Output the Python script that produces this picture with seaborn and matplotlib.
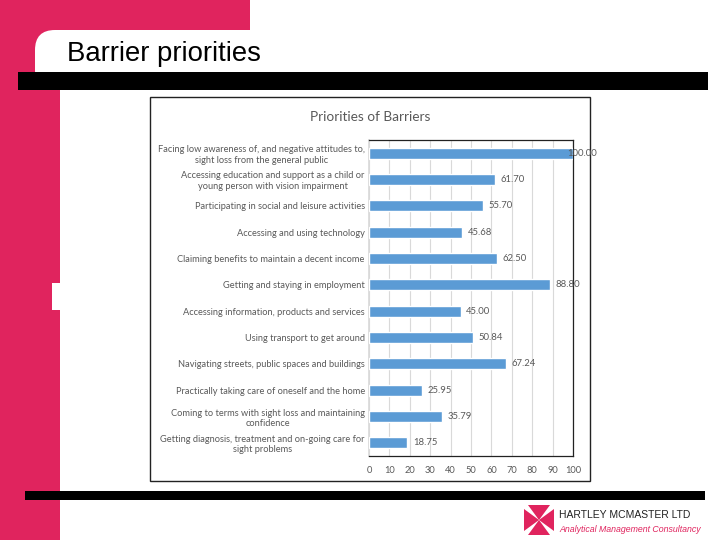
import numpy as np
import pandas as pd
import matplotlib
matplotlib.use("Agg")
import matplotlib.pyplot as plt
from matplotlib.patches import Rectangle, FancyBboxPatch, Polygon
import seaborn as sns

# Chart data
barriers = [
    "Facing low awareness of, and negative attitudes to,\nsight loss from the general public",
    "Accessing education and support as a child or\nyoung person with vision impairment",
    "Participating in social and leisure activities",
    "Accessing and using technology",
    "Claiming benefits to maintain a decent income",
    "Getting and staying in employment",
    "Accessing information, products and services",
    "Using transport to get around",
    "Navigating streets, public spaces and buildings",
    "Practically taking care of oneself and the home",
    "Coming to terms with sight loss and maintaining\nconfidence",
    "Getting diagnosis, treatment and on-going care for\nsight problems",
]
scores = [100.00, 61.70, 55.70, 45.68, 62.50, 88.80, 45.00, 50.84, 67.24, 25.95, 35.79, 18.75]
x_ticks = list(range(0, 101, 10))

slide_title = "Barrier priorities"
chart_title = "Priorities of Barriers"

PINK = "#E0245E"
BAR = "#5B9BD5"
GREY_TXT = "#595959"

sns.set_theme(style="white")
plt.rcParams["font.family"] = ["Lato", "DejaVu Sans"]

fig = plt.figure(figsize=(7.2, 5.4), dpi=100)
fig.patch.set_facecolor("white")

# slide background drawn in pixel coordinates
bg = fig.add_axes([0, 0, 1, 1])
bg.set_xlim(0, 720)
bg.set_ylim(540, 0)
bg.axis("off")

bg.add_patch(Rectangle((0, 0), 250, 80, color=PINK, lw=0))
bg.add_patch(Rectangle((0, 0), 60, 540, color=PINK, lw=0))
bg.add_patch(FancyBboxPatch((35, 30), 700, 60, boxstyle="round,pad=0,rounding_size=20",
                            fc="white", ec="none"))
bg.add_patch(Rectangle((18, 72), 690, 18, color="black", lw=0))
bg.add_patch(Rectangle((52, 283), 8, 27, color="white", lw=0))
bg.add_patch(Rectangle((25, 491), 680, 9, color="black", lw=0))
bg.add_patch(Rectangle((150, 97), 440, 384, fc="white", ec="#222222", lw=1))
bg.text(67, 54, slide_title, fontsize=19.8, family=["Liberation Sans", "DejaVu Sans"],
        va="center", ha="left", color="black")

# logo: pink wedges pointing to the centre, white X between them
x0, y0, s = 524, 505, 30
cx, cy = x0 + s / 2, y0 + s / 2
bg.add_patch(Rectangle((x0, y0), s, s, color="white", lw=0))
m = 4
wedges = [
    [(x0 + m, y0), (x0 + s - m, y0), (cx, cy)],
    [(x0 + m, y0 + s), (x0 + s - m, y0 + s), (cx, cy)],
    [(x0, y0 + m), (x0, y0 + s - m), (cx, cy)],
    [(x0 + s, y0 + m), (x0 + s, y0 + s - m), (cx, cy)],
]
for w in wedges:
    bg.add_patch(Polygon(w, closed=True, color=PINK, lw=0))
bg.text(559, 515, "HARTLEY MCMASTER LTD", fontsize=7.5, family=["Liberation Sans", "DejaVu Sans"],
        va="center", ha="left", color="#222222")
bg.text(559, 529, "Analytical Management Consultancy", fontsize=6.3, style="italic",
        family=["Liberation Sans", "DejaVu Sans"], va="center", ha="left", color=PINK)

# chart
df = pd.DataFrame({"barrier": barriers, "score": scores})
ax = fig.add_axes([369 / 720, 1 - 456 / 540, 204 / 720, 316 / 540])
sns.barplot(data=df, x="score", y="barrier", orient="h", color=BAR, width=0.42,
            saturation=1, ax=ax, zorder=3)
ax.set_xlim(0, 100)
ax.set_xticks(x_ticks)
ax.set_xlabel("")
ax.set_ylabel("")
ax.xaxis.grid(True, color="#D9D9D9", lw=0.8, zorder=0)
ax.yaxis.grid(False)
ax.tick_params(axis="x", labelsize=6.7, colors=GREY_TXT, length=0, pad=7)
ax.tick_params(axis="y", labelsize=6.7, colors=GREY_TXT, length=0, pad=3)
for lbl in ax.get_yticklabels():
    lbl.set_multialignment("center")
for side in ["top", "right", "bottom"]:
    ax.spines[side].set_color("#222222")
    ax.spines[side].set_linewidth(0.9)
ax.spines["left"].set_color("#D9D9D9")

for i, v in enumerate(scores):
    ax.annotate(f"{v:.2f}", (min(v, 94.5), i), xytext=(4, 0), textcoords="offset points",
                va="center", ha="left", fontsize=6.8, color=GREY_TXT, zorder=5)

fig.text(370 / 720, 1 - 117 / 540, chart_title, fontsize=9.8, color=GREY_TXT,
         ha="center", va="center")

fig.savefig("out.png", dpi=100)
